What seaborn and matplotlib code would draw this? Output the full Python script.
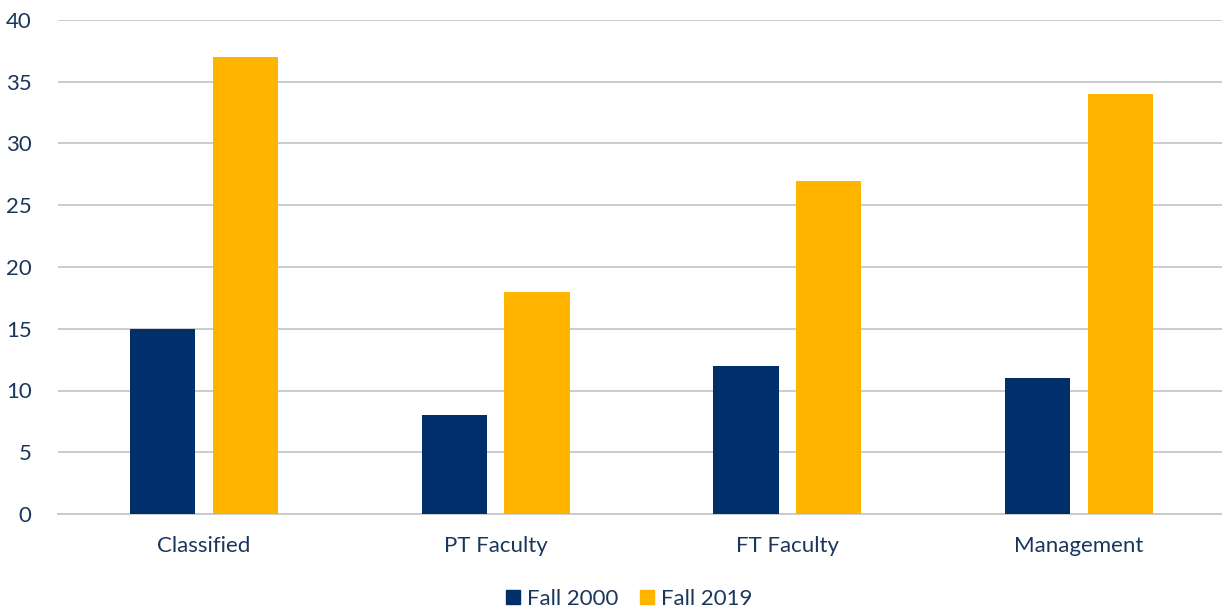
import pandas as pd
import seaborn as sns
import matplotlib.pyplot as plt

categories = ["Classified", "PT Faculty", "FT Faculty", "Management"]
fall_2000 = [15, 8, 12, 11]
fall_2019 = [37, 18, 27, 34]
series = ["Fall 2000", "Fall 2019"]
colors = ["#002F6C", "#FFB500"]
text_color = "#1B365D"

df = pd.DataFrame({
    "category": categories * 2,
    "value": fall_2000 + fall_2019,
    "series": [series[0]] * 4 + [series[1]] * 4,
})

sns.set_theme(style="white")
plt.rcParams["font.family"] = ["Lato", "DejaVu Sans"]

fig = plt.figure(figsize=(12.22, 6.11), dpi=100)
ax = fig.add_axes([58 / 1222, 97 / 611, 1167 / 1222, 494 / 611])

sns.barplot(data=df, x="category", y="value", hue="series", order=categories,
            hue_order=series, palette=colors, width=0.567, gap=0.21,
            saturation=1, linewidth=0, ax=ax, zorder=3)

ax.set_xlim(-0.5, 3.5)
ax.set_ylim(0, 40)
ax.set_yticks(range(0, 41, 5))
ax.yaxis.grid(True, color="#C8C8C8", linewidth=1.3, zorder=0)
ax.set_axisbelow(True)
for s in ["top", "right", "left"]:
    ax.spines[s].set_visible(False)
ax.spines["bottom"].set_color("#C8C8C8")
ax.spines["bottom"].set_linewidth(1.3)
ax.set_xlabel("")
ax.set_ylabel("")
ax.tick_params(axis="both", length=0, labelsize=16, colors=text_color)
ax.tick_params(axis="x", pad=16)
ax.tick_params(axis="y", pad=19)

ax.legend_.remove()
handles = [plt.Rectangle((0, 0), 1, 1, color=c) for c in colors]
leg = fig.legend(handles, series, loc="center", bbox_to_anchor=(629 / 1222, 12 / 611),
                 ncol=2, frameon=False, fontsize=16, handlelength=0.63,
                 handleheight=0.63, handletextpad=0.3, columnspacing=1.0)
for t in leg.get_texts():
    t.set_color(text_color)

fig.savefig("out.png", dpi=100)
